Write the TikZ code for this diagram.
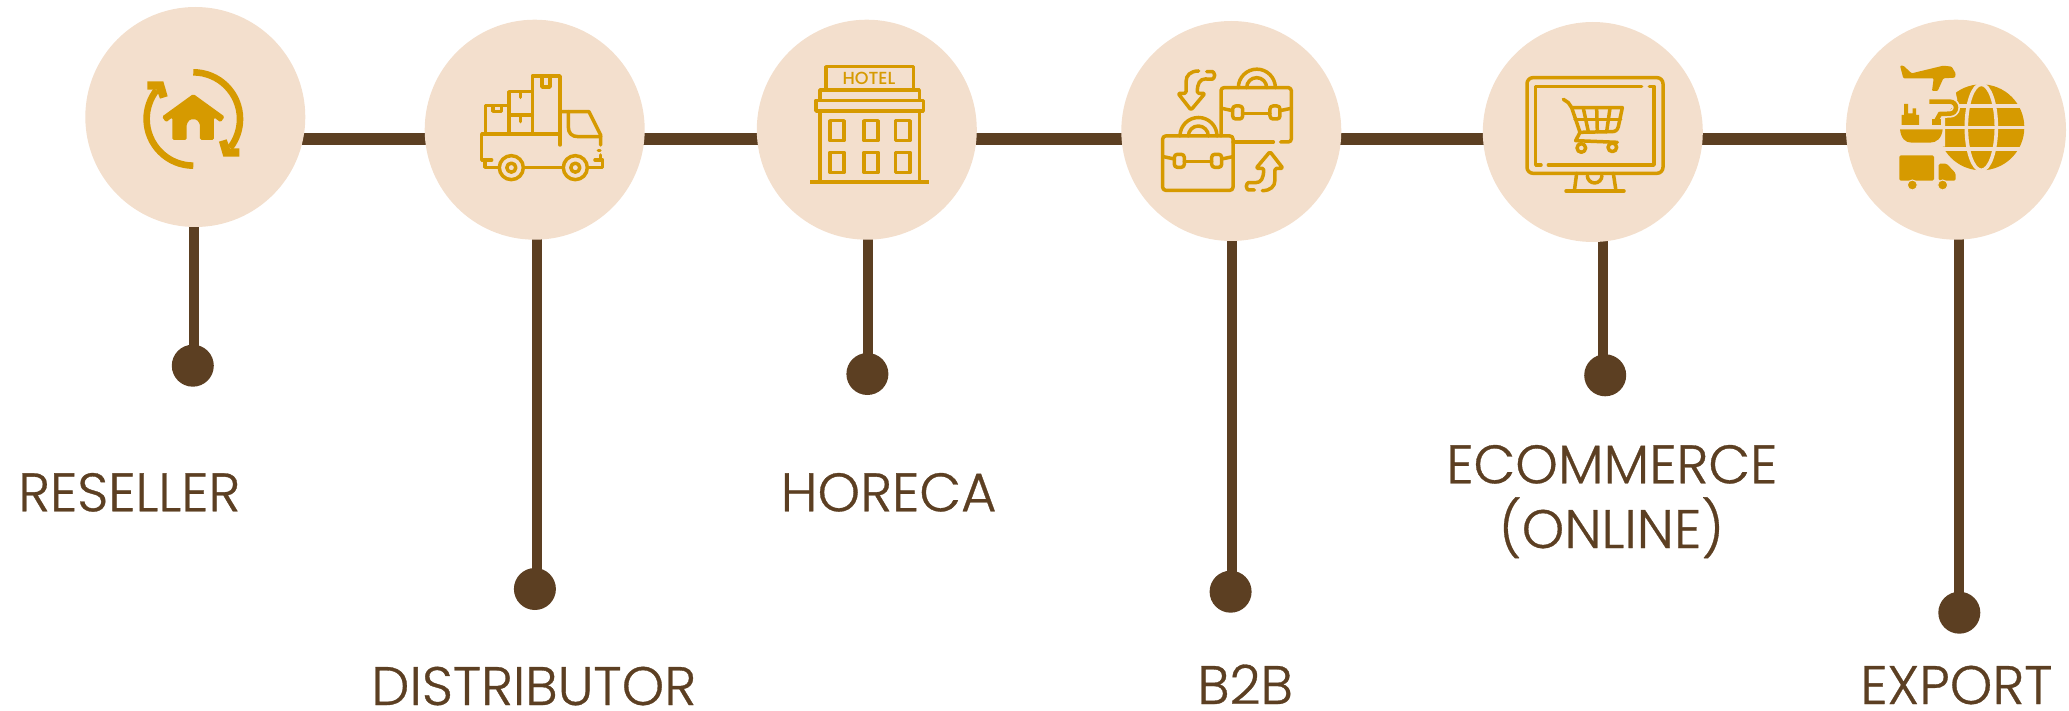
\documentclass[tikz,border=0pt]{standalone}
\usepackage{fontspec}
\usetikzlibrary{backgrounds}
\setmainfont{Poppins Light}[RawFeature={embolden=0.6}]
\newfontfamily\popmed{Poppins Medium}
\definecolor{brownc}{HTML}{5C3F22}
\definecolor{peachc}{HTML}{F3DFCD}
\definecolor{goldc}{HTML}{D69A00}
\tikzset{
  disc/.style={circle,fill=peachc,minimum size=220pt,inner sep=0pt},
  pin/.style={circle,fill=brownc,minimum size=42pt,inner sep=0pt},
  hbar/.style={draw=brownc,line width=12pt},
  vbar/.style={draw=brownc,line width=10pt},
  lab/.style={text=brownc,inner sep=0pt,anchor=base west,font=\fontsize{54.2}{65}\selectfont},
  thinicon/.style={draw=goldc,line width=3.5pt,line join=round,line cap=round,fill=none},
}
\begin{document}
\begin{tikzpicture}[x=1pt,y=-1pt]
\useasboundingbox (0,0) rectangle (2069,711);
\coordinate (hy) at (0,139);
\node[disc] (c1) at (195.3,117) {};
\node[disc] (c2) at (534.7,129.7) {};
\node[disc] (c3) at (866.8,129.7) {};
\node[disc] (c4) at (1231.3,131) {};
\node[disc] (c5) at (1592.8,132) {};
\node[disc] (c6) at (1956,129.7) {};
\node[pin] (d1) at (192.8,365.7) {};
\node[pin] (d2) at (534.9,589) {};
\node[pin] (d3) at (867.4,374) {};
\node[pin] (d4) at (1230.6,591.7) {};
\node[pin] (d5) at (1605.2,375.3) {};
\node[pin] (d6) at (1959.3,612.7) {};
\begin{scope}[on background layer]
\draw[hbar] (c1 |- hy) -- (c2 |- hy);
\draw[hbar] (c2 |- hy) -- (c3 |- hy);
\draw[hbar] (c3 |- hy) -- (c4 |- hy);
\draw[hbar] (c4 |- hy) -- (c5 |- hy);
\draw[hbar] (c5 |- hy) -- (c6 |- hy);
\draw[vbar] ([xshift=1.2pt]d1.center |- c1.center) -- ([xshift=1.2pt]d1.center);
\draw[vbar] ([xshift=2.1pt]d2.center |- c2.center) -- ([xshift=2.1pt]d2.center);
\draw[vbar] ([xshift=0.6pt]d3.center |- c3.center) -- ([xshift=0.6pt]d3.center);
\draw[vbar] ([xshift=1.4pt]d4.center |- c4.center) -- ([xshift=1.4pt]d4.center);
\draw[vbar] ([xshift=-2.2pt]d5.center |- c5.center) -- ([xshift=-2.2pt]d5.center);
\draw[vbar] ([xshift=-0.3pt]d6.center |- c6.center) -- ([xshift=-0.3pt]d6.center);
\end{scope}
% labels
\node[lab] (t1) at (18,511.3) {RESELLER};
\node[lab] (t2) at (371,705) {DISTRIBUTOR};
\node[lab] (t3) at (780.5,511.3) {HORECA};
\node[lab] (t4) at (1197,704) {B2B};
\node[lab] (t5a) at (1446,483.3) {ECOMMERCE};
\node[lab] (t5b) at (1498.7,548) {(ONLINE)};
\node[lab] (t6) at (1860,704) {EXPORT};
% icon 1
\begin{scope}[shift={(70,0)},x=0.3333pt,y=-0.3333pt]
\draw[goldc,line width=6.6pt] (370,217) arc[start angle=90,end angle=-38,radius=46.7pt];
\draw[goldc,line width=6.6pt] (370,497) arc[start angle=270,end angle=142,radius=46.7pt];
\fill[goldc] (447,425)--(470,418)--(480,445)--(508,445)--(508,470)--(460,470)--cycle;
\fill[goldc] (293,289)--(270,296)--(260,269)--(232,269)--(232,244)--(280,244)--cycle;
\fill[goldc,rounded corners=1.5pt] (276,350)--(370,282)--(464,350)--(452,367)--(432,352)--(432,420)--(390,420)--(390,372)--(380,358)--(360,358)--(350,372)--(350,420)--(307,420)--(307,352)--(288,367)--cycle;
\end{scope}
% icon 2
\begin{scope}[shift={(410,10)},x=0.3333pt,y=-0.3333pt]
\draw[thinicon] (226,372)--(226,287)--(297,287)--(297,372);
\draw[thinicon] (297,245) rectangle (367,372);
\draw[thinicon] (297,315)--(367,315);
\draw[thinicon] (367,372)--(367,198)--(450,198)--(450,405);
\draw[thinicon] (249,291)--(249,304)--(275,304)--(275,291);
\draw[thinicon] (332,250)--(332,262);
\draw[thinicon] (332,320)--(332,335);
\draw[thinicon] (396,200)--(396,231)--(420,231)--(420,200);
\draw[thinicon] (450,372)--(215,372)--(215,450)--(245,450);
\draw[thinicon] (225,450)--(225,472)--(265,472);
\draw[thinicon] (345,472)--(458,472);
\draw[thinicon] (535,472)--(578,472)--(578,450)--(555,450);
\draw[thinicon] (450,305)--(537,305)--(572,375)--(572,405);
\draw[thinicon] (572,435)--(572,450);
\draw[thinicon] (565,421)--(570,421);
\draw[thinicon] (475,305)--(475,350) .. controls (475,370) and (485,380) .. (505,380)--(572,380);
\draw[thinicon] (304,473) circle[radius=12pt];
\draw[thinicon] (304,473) circle[radius=4.5pt];
\draw[thinicon] (496,473) circle[radius=12pt];
\draw[thinicon] (496,473) circle[radius=4.5pt];
\end{scope}
% icon 3
\begin{scope}[shift={(750,10)},x=0.3333pt,y=-0.3333pt]
\draw[thinicon] (228,240)--(228,170)--(490,170)--(490,240);
\node[text=goldc,inner sep=0pt,font=\popmed\fontsize{17.5}{20}\selectfont] (hoteltxt) at (357,206) {HOTEL};
\draw[thinicon] (210,270)--(210,240)--(508,240)--(508,270);
\draw[thinicon] (198,271) rectangle (520,303);
\draw[thinicon] (210,303)--(210,515);
\draw[thinicon] (508,303)--(508,515);
\draw[goldc,line width=4pt] (180,516)--(537,516);
\foreach \xa/\xb in {240/282,342/384,436/480}{
  \draw[thinicon] (\xa,332) rectangle (\xb,392);
  \draw[thinicon] (\xa,427) rectangle (\xb,488);
}
\end{scope}
% icon 4
\begin{scope}[shift={(1110,10)},x=0.3333pt,y=-0.3333pt]
\tikzset{casepart/.pic={
  \draw[thinicon] (385,233) arc[start angle=180,end angle=0,radius=18.5pt];
  \draw[thinicon] (410,233) arc[start angle=180,end angle=0,radius=10pt];
  \draw[thinicon] (335,295)--(368,302);
  \draw[thinicon,rounded corners=3pt] (368,288) rectangle (398,327);
  \draw[thinicon] (398,310)--(480,310);
  \draw[thinicon,rounded corners=3pt] (480,288) rectangle (510,327);
  \draw[thinicon] (510,302)--(544,295);
}}
\draw[thinicon,rounded corners=3pt] (490,396)--(369,396);
\draw[thinicon,rounded corners=3pt] (512,396)--(544,396)--(544,233)--(333,233)--(333,378);
\pic at (0,0) {casepart};
\draw[thinicon,rounded corners=3pt] (158,378) rectangle (369,541);
\pic at (-175,145) {casepart};
\draw[thinicon,rounded corners=1.5pt] (290,185)--(303,185) arc[start angle=90,end angle=-90,radius=3.7pt]--(290,207) .. controls (270,207) and (262,220) .. (262,250)--(285,250)--(243,300)--(204,250)--(228,250)--(228,220) .. controls (228,195) and (242,183) .. (266,183);
\draw[thinicon,rounded corners=1.5pt,rotate around={180:(361.5,362.5)}] (290,185)--(303,185) arc[start angle=90,end angle=-90,radius=3.7pt]--(290,207) .. controls (270,207) and (262,220) .. (262,250)--(285,250)--(243,300)--(204,250)--(228,250)--(228,220) .. controls (228,195) and (242,183) .. (266,183);
\end{scope}
% icon 5
\begin{scope}[shift={(1480,10)},x=0.3333pt,y=-0.3333pt]
\draw[thinicon,rounded corners=6pt] (141,203) rectangle (549,490);
\draw[thinicon] (485,229)--(167,229)--(167,465)--(183,465);
\draw[thinicon] (205,465)--(522,465)--(522,229)--(508,229);
\draw[thinicon] (290,490)--(283,543);
\draw[thinicon] (400,490)--(408,543);
\draw[thinicon] (258,543)--(432,543);
\draw[thinicon] (322,497) arc[start angle=180,end angle=360,radius=7.3pt];
\draw[thinicon] (250,268)--(265,278)--(275,293)--(300,367)--(287,392)--(412,397);
\draw[thinicon] (275,293)--(427,293)--(415,350) .. controls (412,362) and (405,365) .. (395,365)--(300,367);
\draw[thinicon] (310,295)--(325,365);
\draw[thinicon] (350,295)--(352,365);
\draw[thinicon] (390,295)--(380,365);
\draw[thinicon] (285,328)--(422,328);
\draw[thinicon] (304,414) circle[radius=4.3pt];
\draw[thinicon] (397,412) circle[radius=4.3pt];
\end{scope}
% icon 6
\begin{scope}[shift={(1840,10)},x=0.3333pt,y=-0.3333pt]
\fill[goldc] (424,352) circle[radius=43pt];
\draw[peachc,line width=3.6pt] (424,352) ellipse[x radius=15pt,y radius=43pt];
\draw[peachc,line width=3.6pt] (290,288)--(560,288);
\draw[peachc,line width=3.6pt] (290,353)--(560,353);
\draw[peachc,line width=3.6pt] (290,417)--(560,417);
\fill[peachc] (285,215)--(340,215)--(352,270)--(315,320)--(315,410)--(285,410)--cycle;
\draw[peachc,line width=8pt,line join=round] (268,275)--(330,275) arc[start angle=90,end angle=-90,radius=6pt]--(300,312)--(290,330);
\draw[goldc,line width=4.5pt] (268,275)--(330,275) arc[start angle=90,end angle=-90,radius=6pt]--(300,312)--(290,330);
\fill[goldc] (275,327) rectangle (302,345);
\fill[goldc,rounded corners=1pt] (180,167)--(190,167)--(215,190)--(310,167)--(335,170)--(347,190)--(345,203)--(310,205)--(293,243)--(276,243)--(281,205)--(190,205)--cycle;
\fill[goldc] (185,345)--(185,315)--(192,315)--(192,282)--(204,282)--(204,310)--(218,310)--(218,295)--(228,295)--(228,315)--(237,315)--(237,345)--cycle;
\fill[goldc] (180,358)--(308,358) .. controls (305,385) and (290,398) .. (270,398)--(215,398) .. controls (195,398) and (183,385) .. (180,358)--cycle;
\fill[goldc,rounded corners=1.5pt] (178,436) rectangle (282,512);
\fill[goldc,rounded corners=1.5pt] (296,461)--(320,461)--(347,490)--(347,512)--(296,512)--cycle;
\fill[goldc,draw=peachc,line width=1pt] (217,525) circle[radius=5pt];
\fill[goldc,draw=peachc,line width=1pt] (308,525) circle[radius=5pt];
\end{scope}
\end{tikzpicture}
\end{document}
